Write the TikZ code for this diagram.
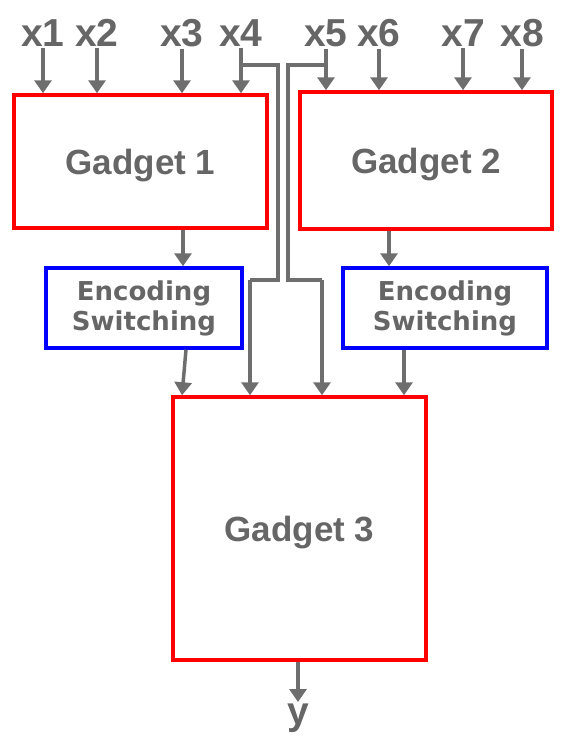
\documentclass[tikz,border=0pt]{standalone}
\usepackage{fontspec}
\setmainfont{Liberation Sans}
\newfontfamily\encfont{DejaVu Sans}
\usetikzlibrary{arrows.meta}
\definecolor{wiregray}{HTML}{6E6E6E}
\definecolor{textgray}{HTML}{666666}
\tikzset{
    gadget/.style={draw=red, line width=3.5pt, inner sep=0pt, text=textgray, text depth=0pt,
        font=\bfseries\fontsize{35}{38}\selectfont},
    encbox/.style={draw=blue, line width=3.5pt, inner sep=0pt, text=textgray,
        align=center, font=\encfont\bfseries\fontsize{26}{30}\selectfont,
        minimum height=80pt},
    inlabel/.style={text=textgray, inner sep=2pt, font=\bfseries\fontsize{39}{41}\selectfont},
    wire/.style={draw=wiregray, line width=3.5pt, -{Triangle[length=13pt,width=17pt]}},
}
\begin{document}
\begin{tikzpicture}[x=1pt,y=-1pt]
\useasboundingbox (0,0) rectangle (573,744);

\node[gadget, minimum width=253pt, minimum height=133pt] (g1) at (140.5,161.5) {Gadget 1};
\node[gadget, minimum width=252pt, minimum height=137pt] (g2) at (426,160.5) {Gadget 2};
\node[encbox, minimum width=196pt] (e1) at (144,308) {Encoding\\Switching};
\node[encbox, minimum width=204pt] (e2) at (445,308) {Encoding\\Switching};
\node[gadget, minimum width=253pt, minimum height=263pt] (g3) at (299.5,528.5) {Gadget 3};

% inputs
\foreach \n/\x in {1/43, 2/97, 3/182, 4/241, 5/326, 6/379, 7/463, 8/522}
{
    \node[inlabel, anchor=base] (x\n) at (\x,46) {x\n};
}
\foreach \n in {1,2,3,4}
{
    \draw[wire] (x\n.south) -- (x\n.south |- g1.north);
}
\foreach \n in {5,6,7,8}
{
    \draw[wire] (x\n.south) -- (x\n.south |- g2.north);
}

% x4 and x5 go straight to gadget 3
\coordinate (j4) at (241,65);
\coordinate (j5) at (326,65);
\coordinate (k4) at (250,280);
\coordinate (k5) at (322,280);
\draw[wire, -] (j4) -- (278,65) -- (278,280) -- (k4);
\draw[wire] (k4) -- (k4 |- g3.north);
\draw[wire, -] (j5) -- (288,65) -- (288,280) -- (k5);
\draw[wire] (k5) -- (k5 |- g3.north);

% encodings
\draw[wire] ([xshift=42.5pt]g1.south) -- ([xshift=42.5pt]g1.south |- e1.north);
\draw[wire] ([xshift=-37pt]g2.south) -- ([xshift=-37pt]g2.south |- e2.north);
\draw[wire] ([xshift=42pt]e1.south) -- ([xshift=-117.5pt]g3.north);
\draw[wire] ([xshift=-41pt]e2.south) -- ([xshift=-41pt]e2.south |- g3.north);

% output
\node[inlabel, anchor=north] (y) at (298,702) {y};
\draw[wire] (g3.south -| y.north) -- (y.north);
\end{tikzpicture}
\end{document}
